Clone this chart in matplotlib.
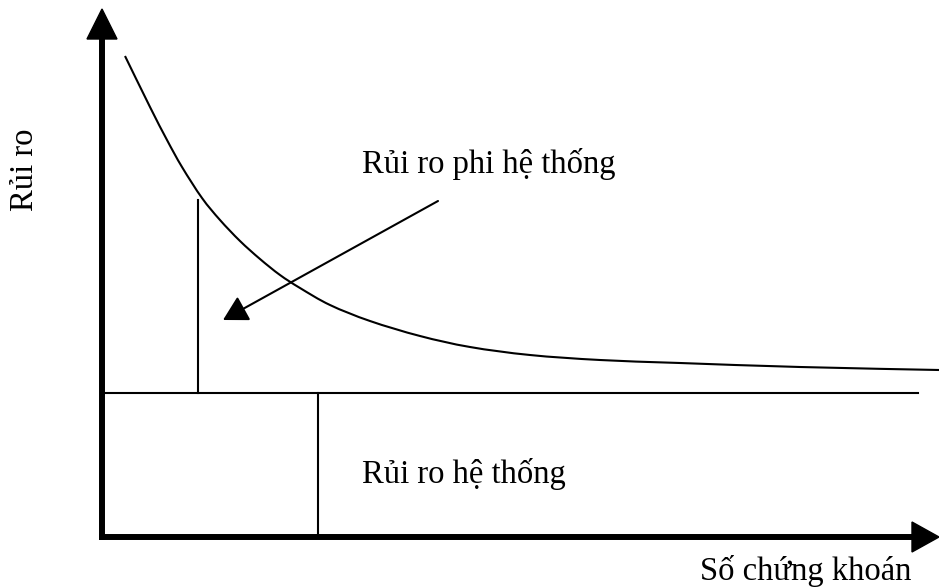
import matplotlib
matplotlib.use("Agg")
import matplotlib.pyplot as plt
from matplotlib.patches import Polygon, PathPatch
from matplotlib.path import Path

# DATA (pixel units, y grows downward)
curve_x = [125, 150, 167, 182, 202, 220, 240, 260, 280, 300, 330, 370, 420, 470, 530, 600, 680, 800, 939]
curve_y = [56, 107, 140, 167, 198, 220, 241, 259, 275, 288, 305, 321, 336, 347, 355, 360, 363, 367, 370]

floor_y = 393          # systematic risk level
floor_x = [102, 918]
short_line_x = 198     # vertical line above the floor
short_line_top = 200
long_line_x = 318      # vertical line below the floor

arrow_from = (438, 201)
arrow_to = (223, 320)

label_unsys = "Rủi ro phi hệ thống"
label_sys = "Rủi ro hệ thống"
label_x = "Số chứng khoán"
label_y = "Rủi ro"

W, H = 939, 588
origin = (102, 537)

plt.rcParams['font.family'] = ['Liberation Serif', 'DejaVu Serif']

fig = plt.figure(figsize=(W / 100, H / 100), dpi=100)
ax = fig.add_axes([0, 0, 1, 1])
ax.set_xlim(0, W)
ax.set_ylim(H, 0)
ax.axis('off')

# axes with arrow heads
ax.plot([origin[0], origin[0]], [origin[1] + 3, 38], color='black', lw=4.3, solid_capstyle='butt')
ax.add_patch(Polygon([(origin[0], 9), (87, 39), (117, 39)], closed=True, color='black'))
ax.plot([origin[0] - 3, 912], [origin[1], origin[1]], color='black', lw=4.3, solid_capstyle='butt')
ax.add_patch(Polygon([(939, origin[1]), (912, 522), (912, 552)], closed=True, color='black'))

# risk curve: smooth bezier pieces through the read points (catmull-rom)
pts = list(zip(curve_x, curve_y))
verts = [pts[0]]
codes = [Path.MOVETO]
for i in range(len(pts) - 1):
    p0 = pts[max(i - 1, 0)]
    p1 = pts[i]
    p2 = pts[i + 1]
    p3 = pts[min(i + 2, len(pts) - 1)]
    c1 = (p1[0] + (p2[0] - p0[0]) / 6, p1[1] + (p2[1] - p0[1]) / 6)
    c2 = (p2[0] - (p3[0] - p1[0]) / 6, p2[1] - (p3[1] - p1[1]) / 6)
    verts += [c1, c2, p2]
    codes += [Path.CURVE4] * 3
ax.add_patch(PathPatch(Path(verts, codes), facecolor='none', edgecolor='black', lw=1.5))

ax.plot(floor_x, [floor_y, floor_y], color='black', lw=1.5)
ax.plot([short_line_x, short_line_x], [short_line_top, floor_y], color='black', lw=1.5)
ax.plot([long_line_x, long_line_x], [floor_y, origin[1]], color='black', lw=1.5)

ax.annotate('', xy=arrow_to, xytext=arrow_from,
            arrowprops=dict(arrowstyle='-|>,head_length=0.5,head_width=0.28', mutation_scale=30,
                            lw=1.5, color='black', shrinkA=0, shrinkB=0))

# labels
fs = 23.5
ax.text(362, 173, label_unsys, fontsize=fs, ha='left', va='baseline')
ax.text(362, 483, label_sys, fontsize=fs, ha='left', va='baseline')
ax.text(700, 580, label_x, fontsize=fs, ha='left', va='baseline')
ax.text(25, 170, label_y, fontsize=fs, ha='center', va='center', rotation=90)

fig.savefig('out.png', dpi=100)
